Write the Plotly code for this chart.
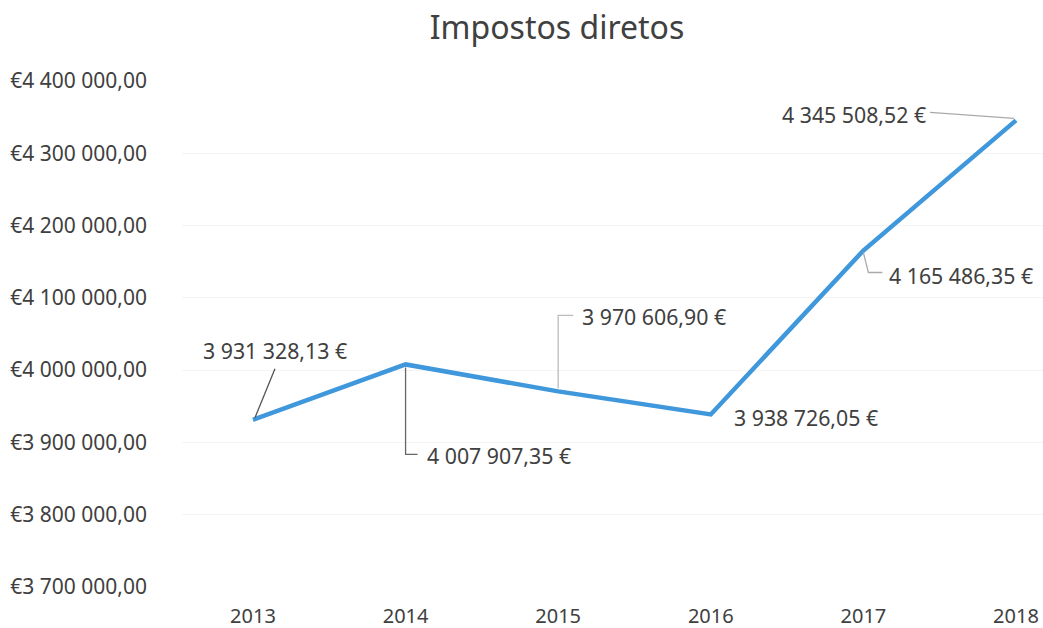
import plotly.graph_objects as go

years = ["2013", "2014", "2015", "2016", "2017", "2018"]
values = [3931328.13, 4007907.35, 3970606.90, 3938726.05, 4165486.35, 4345508.52]
value_labels = ["3 931 328,13 €", "4 007 907,35 €", "3 970 606,90 €",
                "3 938 726,05 €", "4 165 486,35 €", "4 345 508,52 €"]
tick_vals = [3700000, 3800000, 3900000, 4000000, 4100000, 4200000, 4300000, 4400000]
tick_text = ["€3 700 000,00", "€3 800 000,00", "€3 900 000,00", "€4 000 000,00",
             "€4 100 000,00", "€4 200 000,00", "€4 300 000,00", "€4 400 000,00"]

FONT = "Noto Sans"
TXT = "#404040"

xs = list(range(len(years)))

fig = go.Figure()
fig.add_trace(go.Scatter(
    x=xs, y=values, mode="lines",
    line=dict(color="#3f97dc", width=4.5),
    hoverinfo="skip", showlegend=False,
))

# label placement (pixel offsets from the data point) and leader-line paths
label_style = [
    dict(xshift=22, yshift=69, xanchor="center", leader="M 2,2 L 22,51", lc="#555555"),
    dict(xshift=19, yshift=-91, xanchor="left", leader="M 0,-3 L 0,-90 L 12,-90", lc="#666666"),
    dict(xshift=22, yshift=75, xanchor="left", leader="M 0,3 L 0,76 L 15,76", lc="#bbbbbb"),
    dict(xshift=21, yshift=-3, xanchor="left", leader=None, lc=None),
    dict(xshift=24, yshift=-25, xanchor="left", leader="M 0,-2 L 5,-22 L 19,-22", lc="#aaaaaa"),
    dict(xshift=-88, yshift=6, xanchor="right", leader="M -2,2 L -86,8", lc="#aaaaaa"),
]

for i, (v, t, st) in enumerate(zip(values, value_labels, label_style)):
    fig.add_annotation(
        x=xs[i], y=v, xref="x", yref="y", text=t, showarrow=False,
        xanchor=st["xanchor"], yanchor="middle",
        xshift=st["xshift"], yshift=st["yshift"],
        font=dict(family=FONT, size=21.3, color=TXT),
    )
    if st["leader"]:
        fig.add_shape(
            type="path", xref="x", yref="y",
            xsizemode="pixel", ysizemode="pixel",
            xanchor=xs[i], yanchor=v, path=st["leader"],
            line=dict(color=st["lc"], width=1.3), layer="above",
        )

W, H = 1043, 628

fig.update_layout(
    width=W, height=H,
    paper_bgcolor="white", plot_bgcolor="white",
    margin=dict(l=182, r=0, t=81, b=41),
    title=dict(text="Impostos diretos", x=557/W, xref="container", xanchor="center",
               y=1 - 28/H, yref="container", yanchor="middle",
               font=dict(family=FONT, size=32, color=TXT)),
    xaxis=dict(
        tickmode="array", tickvals=xs, ticktext=years,
        range=[-0.465, 5.177], showgrid=False, zeroline=False, showline=False,
        ticks="", ticklabelstandoff=15, ticklabeloverflow="allow",
        tickfont=dict(family=FONT, size=20, color=TXT),
    ),
    yaxis=dict(
        tickmode="array", tickvals=tick_vals, ticktext=tick_text,
        range=[3700000, 4400000], showgrid=True, gridcolor="#f4f4f4", gridwidth=1,
        zeroline=False, showline=False, ticks="", ticklabelstandoff=34,
        tickfont=dict(family=FONT, size=21, color=TXT),
    ),
)

fig.write_html(
    "out.html",
    config={"displayModeBar": False, "staticPlot": True},
    post_script="document.body.style.margin='0';document.body.style.overflow='hidden';",
)
